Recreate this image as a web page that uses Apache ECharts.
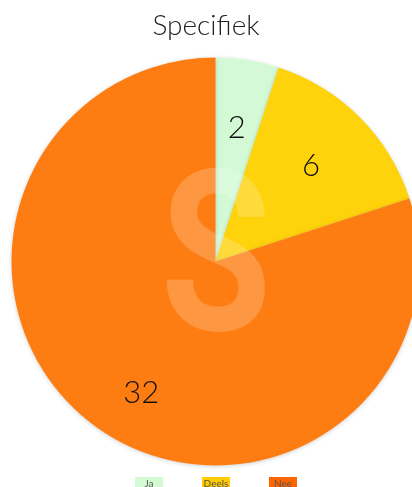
<!DOCTYPE html>
<html>
<head>
<meta charset="utf-8">
<script src="https://cdn.jsdelivr.net/npm/echarts@6/dist/echarts.min.js"></script>
<style>html,body{margin:0;padding:0;background:#fff;}#c{width:412px;height:487px;}</style>
</head>
<body>
<div id="c"></div>
<script>
const categories = ['Ja', 'Deels', 'Nee'];
const values = [2, 6, 32];
const sliceColors = ['#d3fad5', '#fed30b', '#fe7d12'];
const legendColors = ['#d4fad4', '#ffcc00', '#ff6600'];
const labelOffsets = [[0, 0], [0, 0], [5, 22]];

const chart = echarts.init(document.getElementById('c'));
const rich = {};
categories.forEach((c, i) => {
  rich['k' + i] = {backgroundColor: legendColors[i], width: 28, height: 14, align: 'center',
    verticalAlign: 'middle', color: '#555', fontSize: 10, fontFamily: 'Lato', lineHeight: 14};
});
const center = [215.5, 261.5];
const option = {
  animation: false,
  title: {text: 'Specifiek', left: 'center', top: 7,
    textStyle: {fontFamily: 'Lato', fontWeight: 300, fontSize: 28, color: '#222'}},
  legend: {
    data: categories, top: 477, left: 130, itemWidth: 0, itemHeight: 0, itemGap: 34,
    icon: 'rect', selectedMode: false, padding: 0,
    formatter: name => '{k' + categories.indexOf(name) + '|' + name + '}',
    textStyle: {rich: rich}
  },
  graphic: [{
    type: 'text', z: 100, silent: true, x: 216, y: 274, scaleX: 0.8,
    style: {text: 'S', fontSize: 224, fontFamily: 'Roboto', fontWeight: 'bold',
      align: 'center', verticalAlign: 'middle',
      fill: 'rgba(255,255,255,0.2)'}
  }],
  series: [{
    type: 'pie', center: center, radius: [0, 204], startAngle: 90, clockwise: true,
    label: {show: false}, labelLine: {show: false}, silent: true,
    itemStyle: {borderWidth: 0, shadowBlur: 4, shadowColor: 'rgba(0,0,0,0.18)', shadowOffsetY: 1},
    data: categories.map((c, i) => ({name: c, value: values[i], itemStyle: {color: sliceColors[i]}}))
  }, {
    type: 'pie', center: center, radius: [60, 204], startAngle: 90, clockwise: true, silent: true,
    z: 5, legendHoverLink: false,
    itemStyle: {color: 'rgba(0,0,0,0)'},
    label: {show: true, position: 'inside', formatter: '{c}', fontSize: 31, fontFamily: 'Lato',
      fontWeight: 300, color: '#111'},
    labelLine: {show: false},
    data: categories.map((c, i) => ({name: c + ' ', value: values[i], label: {offset: labelOffsets[i]}}))
  }]
};
chart.setOption(option);
</script>
</body>
</html>
